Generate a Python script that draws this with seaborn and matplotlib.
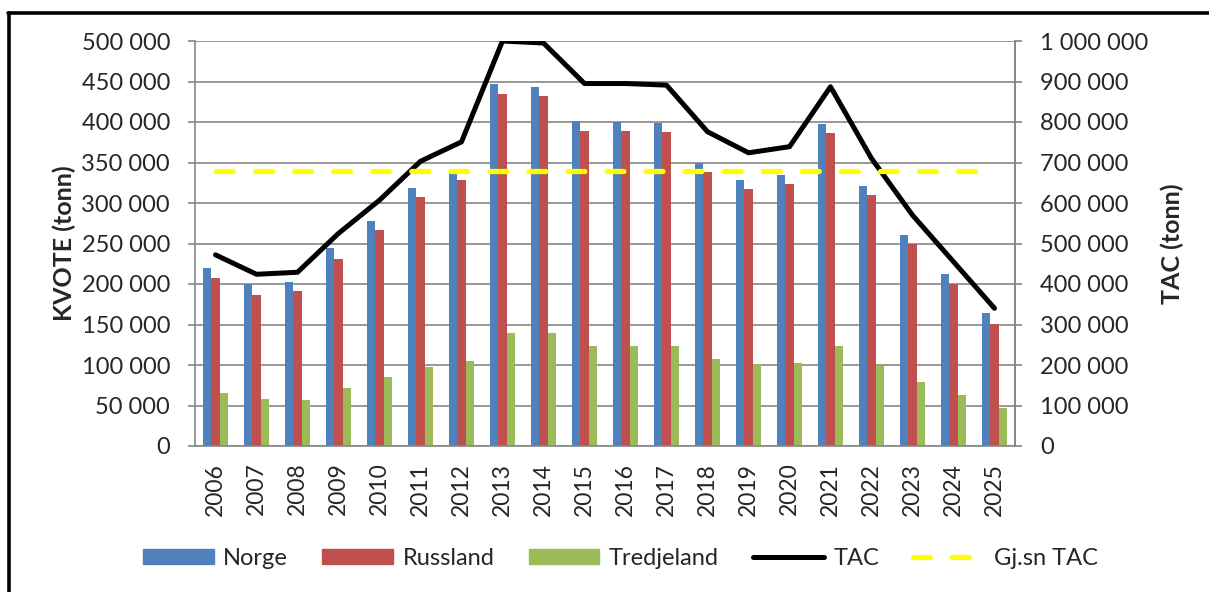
import numpy as np
import pandas as pd
import matplotlib
matplotlib.use("Agg")
import matplotlib.pyplot as plt
from matplotlib.lines import Line2D
from matplotlib.patches import Patch
from matplotlib.ticker import FuncFormatter, MultipleLocator
import seaborn as sns

# Kvoter per år (tonn)
years = [str(y) for y in range(2006, 2026)]
norge = [220000, 200000, 203000, 244000, 278000, 319000, 340000, 447000, 443000, 401000,
         400000, 399000, 350000, 329000, 335000, 397000, 321000, 261000, 212000, 164000]
russland = [208000, 187000, 191000, 231000, 267000, 308000, 328000, 435000, 432000, 389000,
            389000, 388000, 338000, 317000, 323000, 386000, 310000, 249000, 200000, 151000]
tredjeland = [65000, 58000, 57000, 72000, 85000, 98000, 105000, 140000, 139000, 124000,
              124000, 124000, 108000, 101000, 103000, 123000, 99000, 79000, 63000, 47000]
tac = [472000, 424000, 429000, 525000, 607000, 703000, 751000, 1000000, 995000, 895000,
       895000, 891000, 776000, 724000, 739000, 887000, 710000, 570000, 455000, 340000]
gjsn_tac = 679000

colors = {"Norge": "#4F81BD", "Russland": "#C0504D", "Tredjeland": "#9BBB59"}
grid_col = "#868686"

df = pd.DataFrame({"År": years, "Norge": norge, "Russland": russland, "Tredjeland": tredjeland})
long_df = df.melt(id_vars="År", var_name="Land", value_name="Kvote")

sns.set_theme(style="white")
plt.rcParams["font.family"] = ["Lato", "DejaVu Sans"]

fig = plt.figure(figsize=(12.09, 5.92), dpi=100)
ax = fig.add_axes([195 / 1209, 1 - 446 / 592, (1015 - 195) / 1209, (446 - 41) / 592])

sns.barplot(data=long_df, x="År", y="Kvote", hue="Land", palette=colors,
            width=0.63, gap=0, saturation=1, legend=False, ax=ax, edgecolor="none")

space_fmt = FuncFormatter(lambda v, p: f"{int(v):,}".replace(",", " "))

ax.set_ylim(0, 500000)
ax.set_xlim(-0.5, len(years) - 0.5)
ax.yaxis.set_major_locator(MultipleLocator(50000))
ax.yaxis.set_major_formatter(space_fmt)
ax.grid(axis="y", color=grid_col, linewidth=1.2)
ax.set_axisbelow(True)
ax.set_xlabel("")
ax.set_ylabel("KVOTE (tonn)", fontsize=18, fontweight="bold", labelpad=4)
ax.tick_params(axis="y", labelsize=17, length=5, width=1.2, color=grid_col,
               direction="out", left=True, pad=13)
ax.tick_params(axis="x", labelsize=16.5, length=0, rotation=90, pad=12)
ax.spines["top"].set_visible(False)
for s in ["left", "bottom", "right"]:
    ax.spines[s].set_color(grid_col)
    ax.spines[s].set_linewidth(1.2)

ax2 = ax.twinx()
x = np.arange(len(years))
sns.lineplot(x=x, y=tac, ax=ax2, color="black", linewidth=3.6, legend=False)
ax2.plot(x, [gjsn_tac] * len(years), color="#FFFF00", linewidth=3.8,
         dashes=(3.2, 4.2), dash_capstyle="round")
ax2.set_ylim(0, 1000000)
ax2.set_xlim(-0.5, len(years) - 0.5)
ax2.yaxis.set_major_locator(MultipleLocator(100000))
ax2.yaxis.set_major_formatter(space_fmt)
ax2.set_ylabel("TAC (tonn)", fontsize=18, fontweight="bold", labelpad=9)
ax2.tick_params(axis="y", labelsize=17, length=5, width=1.2, color=grid_col,
                direction="out", right=True, pad=13)
ax2.grid(False)
for s in ["top", "left", "bottom"]:
    ax2.spines[s].set_visible(False)
ax2.spines["right"].set_color(grid_col)
ax2.spines["right"].set_linewidth(1.2)

handles = [Patch(color=colors["Norge"]), Patch(color=colors["Russland"]),
           Patch(color=colors["Tredjeland"]),
           Line2D([], [], color="black", linewidth=3.6),
           Line2D([], [], color="#FFFF00", linewidth=3.8, dashes=(3.2, 4.2), dash_capstyle="round")]
labels = ["Norge", "Russland", "Tredjeland", "TAC", "Gj.sn TAC"]
fig.legend(handles, labels, loc="center", bbox_to_anchor=(0.513, 0.057), ncol=5,
           frameon=False, fontsize=17, handlelength=3.0, handleheight=0.65,
           columnspacing=1.45, handletextpad=0.4)

# svart ramme
fig.add_artist(Line2D([9 / 1209, 9 / 1209], [0, 1 - 13 / 592], color="black",
                      linewidth=2.6, transform=fig.transFigure))
fig.add_artist(Line2D([8 / 1209, 1], [1 - 13 / 592, 1 - 13 / 592], color="black",
                      linewidth=2.6, transform=fig.transFigure))

fig.savefig("out.png", dpi=100)
